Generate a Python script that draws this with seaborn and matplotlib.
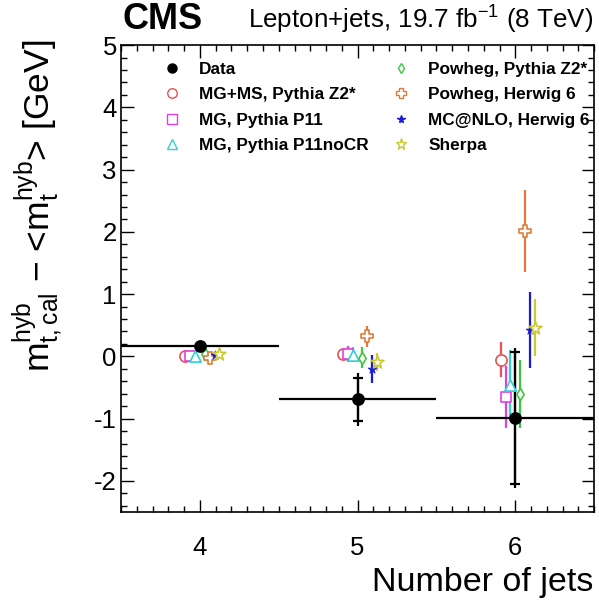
import numpy as np
import pandas as pd
import matplotlib
matplotlib.use("Agg")
import matplotlib.pyplot as plt
from matplotlib.lines import Line2D
from matplotlib.ticker import MultipleLocator
import seaborn as sns

# ---- data -------------------------------------------------------------
jets = [4, 5, 6]

data_val = [0.16, -0.69, -0.99]
data_stat = [0.03, 0.34, 1.06]
data_tot = [0.04, 0.43, 1.12]

series_names = [
    "MG+MS, Pythia Z2*",
    "MG, Pythia P11",
    "MG, Pythia P11noCR",
    "Powheg, Pythia Z2*",
    "Powheg, Herwig 6",
    "MC@NLO, Herwig 6",
    "Sherpa",
]
mgms_z2 = [0.00, 0.04, -0.05]
mgms_z2_err = [0.04, 0.05, 0.28]
mg_p11 = [0.00, 0.04, -0.65]
mg_p11_err = [0.04, 0.13, 0.50]
mg_p11nocr = [0.00, 0.03, -0.46]
mg_p11nocr_err = [0.04, 0.12, 0.57]
powheg_z2 = [0.04, -0.02, -0.60]
powheg_z2_err = [0.04, 0.17, 0.55]
powheg_hw = [-0.03, 0.32, 2.01]
powheg_hw_err = [0.04, 0.17, 0.66]
mcnlo_hw = [0.03, -0.20, 0.42]
mcnlo_hw_err = [0.04, 0.22, 0.61]
sherpa = [0.04, -0.09, 0.46]
sherpa_err = [0.04, 0.15, 0.46]

series_vals = [mgms_z2, mg_p11, mg_p11nocr, powheg_z2, powheg_hw, mcnlo_hw, sherpa]
series_errs = [mgms_z2_err, mg_p11_err, mg_p11nocr_err, powheg_z2_err,
               powheg_hw_err, mcnlo_hw_err, sherpa_err]

# ---- styles -----------------------------------------------------------
colors = ["#e8505a", "#e040e0", "#30d0d8", "#3cc83c", "#e07b39", "#1a1ad8", "#c8c838"]
markers = ["o", "s", "^", "d", "P", "*", "*"]
sizes = [65, 60, 65, 38, 65, 45, 95]
hollow = [True, True, True, True, True, False, True]
offsets = [-0.093, -0.062, -0.031, 0.031, 0.062, 0.093, 0.124]

sns.set_theme(style="ticks")
plt.rcParams["font.family"] = ["Liberation Sans", "DejaVu Sans"]
plt.rcParams["mathtext.fontset"] = "custom"
plt.rcParams["mathtext.rm"] = "Liberation Sans"
plt.rcParams["mathtext.it"] = "Liberation Sans:italic"
plt.rcParams["mathtext.bf"] = "Liberation Sans:bold"
plt.rcParams["axes.unicode_minus"] = False
plt.rcParams["text.color"] = "black"

fig = plt.figure(figsize=(5.99, 6.01), dpi=100)
ax = fig.add_axes([0.202, 0.148, 0.790, 0.777])

# data: bin-width horizontal bars, total and statistical vertical errors
ax.errorbar(jets, data_val, xerr=0.5, yerr=data_tot, fmt="none",
            ecolor="black", elinewidth=1.6, capsize=0, zorder=4)
ax.errorbar(jets, data_val, yerr=data_stat, fmt="none",
            ecolor="black", elinewidth=1.6, capsize=3.5, capthick=1.6, zorder=4)
sns.scatterplot(x=jets, y=data_val, marker="o", s=85, color="black",
                edgecolor="black", linewidth=0, ax=ax, zorder=6, legend=False)

# simulated samples, shifted in x for visibility
for name, vals, errs, c, m, s, h, dx in zip(series_names, series_vals, series_errs,
                                           colors, markers, sizes, hollow, offsets):
    xs = [j + dx for j in jets]
    ax.errorbar(xs, vals, yerr=errs, fmt="none", ecolor=c, elinewidth=1.6,
                capsize=0, zorder=3)
    frame = pd.DataFrame({"x": xs, "y": vals})
    sns.scatterplot(data=frame, x="x", y="y", marker=m, s=s, color=c,
                    ax=ax, zorder=5, legend=False)
    coll = ax.collections[-1]
    if h:
        coll.set_facecolor("white")
        coll.set_edgecolor(c)
        coll.set_linewidth(1.2)
    else:
        coll.set_facecolor(c)
        coll.set_edgecolor(c)
        coll.set_linewidth(0.5)

ax.set_xlim(3.5, 6.5)
ax.set_ylim(-2.5, 5)
ax.set_xticks(jets)
ax.set_yticks(range(-2, 6))
ax.xaxis.set_minor_locator(MultipleLocator(0.1))
ax.yaxis.set_minor_locator(MultipleLocator(0.2))
ax.tick_params(which="both", direction="in", top=True, right=True,
               width=1.0, colors="black", labelcolor="black")
ax.tick_params(which="major", length=9, labelsize=18.5)
ax.tick_params(which="minor", length=4.5)
ax.tick_params(axis="x", which="major", pad=17)
ax.tick_params(axis="y", which="major", pad=3)
for sp in ax.spines.values():
    sp.set_linewidth(1.2)
    sp.set_color("black")
ax.set_xlabel("")
ax.set_ylabel("")
ax.grid(False)

# legend
handles = [Line2D([], [], linestyle="none", marker="o", markersize=6.5,
                  color="black")]
for c, m, s, h in zip(colors, markers, sizes, hollow):
    handles.append(Line2D([], [], linestyle="none", marker=m,
                          markersize=np.sqrt(s) * 0.85,
                          markerfacecolor="white" if h else c,
                          markeredgecolor=c, markeredgewidth=1.0))
labels = ["Data"] + series_names
leg = ax.legend(handles, labels, ncol=2, frameon=False, loc="upper left",
                bbox_to_anchor=(0.071, 0.979), prop={"weight": "bold", "size": 12.4},
                handlelength=1.2, handletextpad=1.0, columnspacing=1.25,
                labelspacing=0.6, borderaxespad=0)

# titles and axis labels
fig.text(122 / 599, 1 - 29 / 601, "CMS", fontsize=26, fontweight="bold",
         ha="left", va="baseline")
fig.text(593 / 599, 1 - 29 / 601, r"Lepton+jets, 19.7 fb$^{-1}$ (8 TeV)",
         fontsize=18.7, ha="right", va="baseline")
fig.text(38 / 599, 1 - 206 / 601,
         r"$\mathrm{m_{t,cal}^{hyb}}$ $-$ <$\mathrm{m_{t}^{hyb}}$> [GeV]",
         fontsize=25.5, rotation=90, ha="center", va="center")
fig.text(593 / 599, 1 - 591 / 601, "Number of jets", fontsize=24.5,
         ha="right", va="baseline")

fig.savefig("out.png", dpi=100)
